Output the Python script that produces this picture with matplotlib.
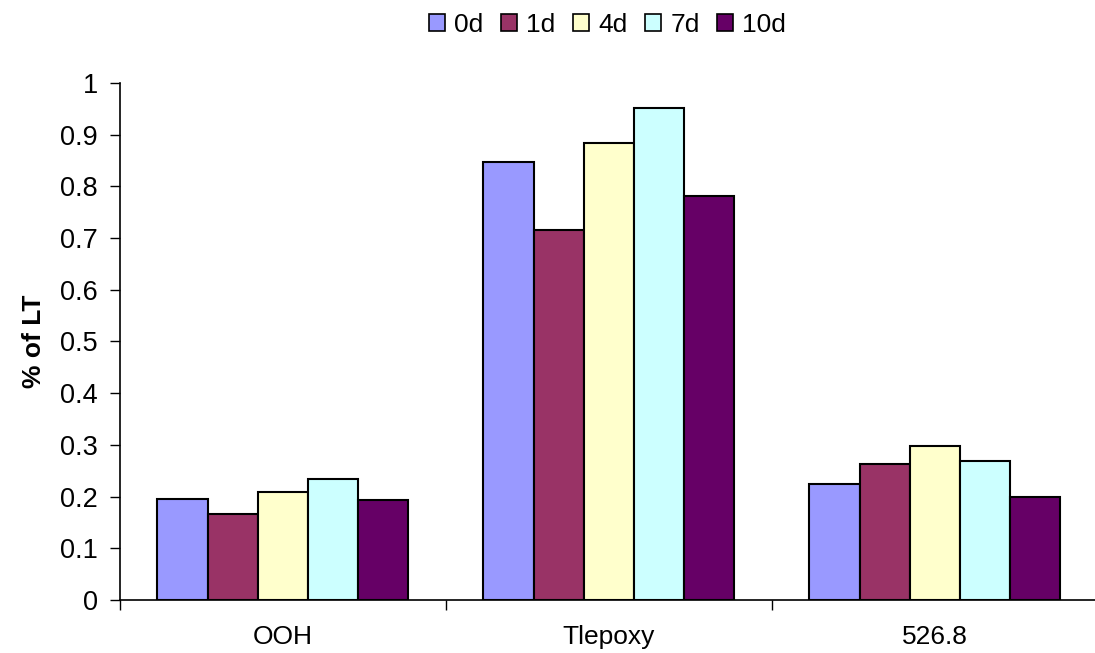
import numpy as np
import matplotlib.pyplot as plt
from matplotlib.patches import Patch

plt.rcParams['font.family'] = ['Liberation Sans', 'DejaVu Sans']

categories = ['OOH', 'Tlepoxy', '526.8']
series = ['0d', '1d', '4d', '7d', '10d']
values = {
    '0d': [0.196, 0.846, 0.224],
    '1d': [0.166, 0.716, 0.262],
    '4d': [0.209, 0.883, 0.298],
    '7d': [0.233, 0.952, 0.268],
    '10d': [0.193, 0.781, 0.200],
}
colors = ['#9999ff', '#993366', '#ffffcc', '#ccffff', '#660066']

fig = plt.figure(figsize=(10.95, 6.53), dpi=100)
ax = fig.add_axes([0.1096, 0.0812, 0.893, 0.792])

x = np.arange(len(categories))
w = 0.154
for i, (s, c) in enumerate(zip(series, colors)):
    ax.bar(x + (i - 2) * w, values[s], width=w, color=c,
           edgecolor='black', linewidth=1.5, label=s)

ax.set_ylim(0, 1)
ax.set_xlim(-0.5, 2.5)
ax.set_yticks(np.arange(0, 1.01, 0.1))
ax.set_yticklabels(['0'] + [f'{v:.1f}' for v in np.arange(0.1, 0.95, 0.1)] + ['1'])
ax.tick_params(axis='y', labelsize=19.5, length=7, width=1, direction='out', pad=9)

# category boundaries as ticks, labels at centres
ax.set_xticks([-0.5, 0.5, 1.5, 2.5])
ax.set_xticklabels([])
ax.set_xticks(x, minor=True)
ax.set_xticklabels(categories, minor=True)
ax.tick_params(axis='x', which='major', length=7, width=1, direction='out')
ax.tick_params(axis='x', which='minor', length=0, labelsize=19, pad=18)

for sp in ['top', 'right']:
    ax.spines[sp].set_visible(False)
ax.spines['left'].set_linewidth(1.2)
ax.spines['bottom'].set_linewidth(1.2)

ax.set_ylabel('% of LT', fontsize=19, fontweight='bold', labelpad=10)

handles = [Patch(facecolor=c, edgecolor='black', linewidth=1.2) for c in colors]
fig.legend(handles, series, loc='upper center', bbox_to_anchor=(0.555, 1.017),
           ncol=5, frameon=False, fontsize=19, handlelength=0.6, handleheight=0.6,
           handletextpad=0.34, columnspacing=0.68)

fig.savefig('out.png', dpi=100)
